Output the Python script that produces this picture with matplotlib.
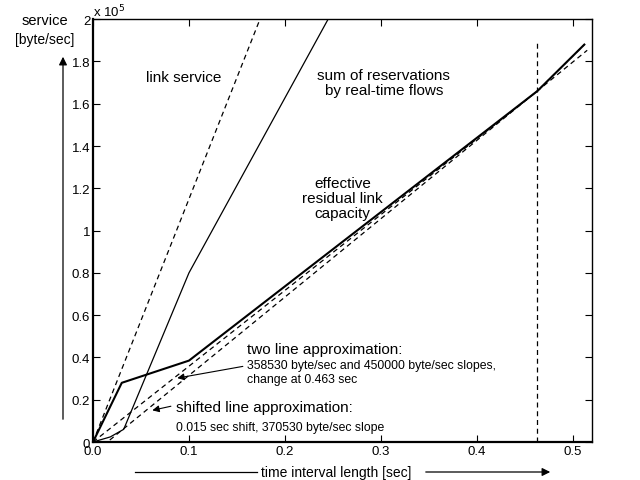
import matplotlib
matplotlib.use("Agg")
import matplotlib.pyplot as plt

plt.rcParams['font.family'] = ['Liberation Sans', 'DejaVu Sans']

# time [sec] / service [x 1e5 byte]
link_t = [0.0, 0.174]
link_s = [0.0, 2.0]

resv_t = [0.0, 0.018, 0.032, 0.1, 0.245]
resv_s = [0.0, 0.024, 0.06, 0.8, 2.0]

eff_t = [0.0, 0.03, 0.1, 0.463, 0.512]
eff_s = [0.0, 0.28, 0.385, 1.66, 1.88]

two_t = [0.0, 0.463, 0.512]
two_s = [0.0, 1.66, 1.88]

shift_t = [0.0, 0.015, 0.515]
shift_s = [0.0, 0.0, 1.853]

change_t = 0.463
change_top = 1.9

xticks = [0.0, 0.1, 0.2, 0.3, 0.4, 0.5]
xlabels = ['0.0', '0.1', '0.2', '0.3', '0.4', '0.5']
yticks = [0, 0.2, 0.4, 0.6, 0.8, 1.0, 1.2, 1.4, 1.6, 1.8, 2.0]
ylabels = ['0', '0.2', '0.4', '0.6', '0.8', '1', '1.2', '1.4', '1.6', '1.8', '2']

fig = plt.figure(figsize=(6.4, 4.81), dpi=100)
ax = fig.add_axes([0.1453, 0.079, 0.7797, 0.879])

dash = (0, (4, 3))
ax.plot(link_t, link_s, color='black', lw=0.9, linestyle=dash)
ax.plot(resv_t, resv_s, color='black', lw=0.9)
ax.plot(two_t, two_s, color='black', lw=0.9, linestyle=dash)
ax.plot(shift_t, shift_s, color='black', lw=0.9, linestyle=dash)
ax.plot(eff_t, eff_s, color='black', lw=1.5)
ax.plot([change_t, change_t], [0, change_top], color='black', lw=0.9, linestyle=dash)

ax.set_xlim(0, 0.52)
ax.set_ylim(0, 2.0)
ax.set_xticks(xticks)
ax.set_xticklabels(xlabels)
ax.set_yticks(yticks)
ax.set_yticklabels(ylabels)
ax.tick_params(direction='in', top=True, right=True, length=5, labelsize=9.5, pad=2)
for s in ax.spines.values():
    s.set_linewidth(1.0)
ax.spines['bottom'].set_linewidth(1.6)
ax.spines['left'].set_linewidth(1.6)

big = 11
small = 8.8
ax.text(0.094, 1.726, 'link service', ha='center', va='center', fontsize=big)
ax.text(0.303, 1.70, 'sum of reservations\nby real-time flows', ha='center', va='center',
        fontsize=big, linespacing=1.1)
ax.text(0.26, 1.155, 'effective\nresidual link\ncapacity', ha='center', va='center',
        fontsize=big, linespacing=1.1)
ax.text(0.161, 0.44, 'two line approximation:', ha='left', va='center', fontsize=big)
ax.text(0.161, 0.33, '358530 byte/sec and 450000 byte/sec slopes,\nchange at 0.463 sec',
        ha='left', va='center', fontsize=small, linespacing=1.25)
ax.text(0.0866, 0.165, 'shifted line approximation:', ha='left', va='center', fontsize=big)
ax.text(0.0866, 0.071, '0.015 sec shift, 370530 byte/sec slope', ha='left', va='center',
        fontsize=small)

arrow = dict(arrowstyle='-|>', color='black', lw=0.8, mutation_scale=10)
ax.annotate('', xy=(0.085, 0.30), xytext=(0.159, 0.36), arrowprops=arrow)
ax.annotate('', xy=(0.059, 0.147), xytext=(0.084, 0.172), arrowprops=arrow)

# exponent and axis captions
fig.text(93 / 640, 1 - 12 / 481, r'x 10$^5$', ha='left', va='center', fontsize=9.5)
fig.text(45 / 640, 1 - 21 / 481, 'service', ha='center', va='center', fontsize=10.5)
fig.text(45 / 640, 1 - 40 / 481, '[byte/sec]', ha='center', va='center', fontsize=10)
fig.text(336 / 640, 1 - 473 / 481, 'time interval length [sec]', ha='center', va='center',
         fontsize=10)

fig_arrow = dict(arrowstyle='-|>', color='black', lw=0.9, mutation_scale=12)
fig.add_artist(plt.Line2D([135 / 640, 257 / 640], [1 - 473 / 481, 1 - 473 / 481],
                          color='black', lw=0.9))
ax.annotate('', xy=(553 / 640, 1 - 473 / 481), xytext=(423 / 640, 1 - 473 / 481),
            xycoords='figure fraction', textcoords='figure fraction', arrowprops=fig_arrow)
ax.annotate('', xy=(63 / 640, 1 - 55 / 481), xytext=(63 / 640, 1 - 423 / 481),
            xycoords='figure fraction', textcoords='figure fraction', arrowprops=fig_arrow)

fig.savefig('out.png', dpi=100)
